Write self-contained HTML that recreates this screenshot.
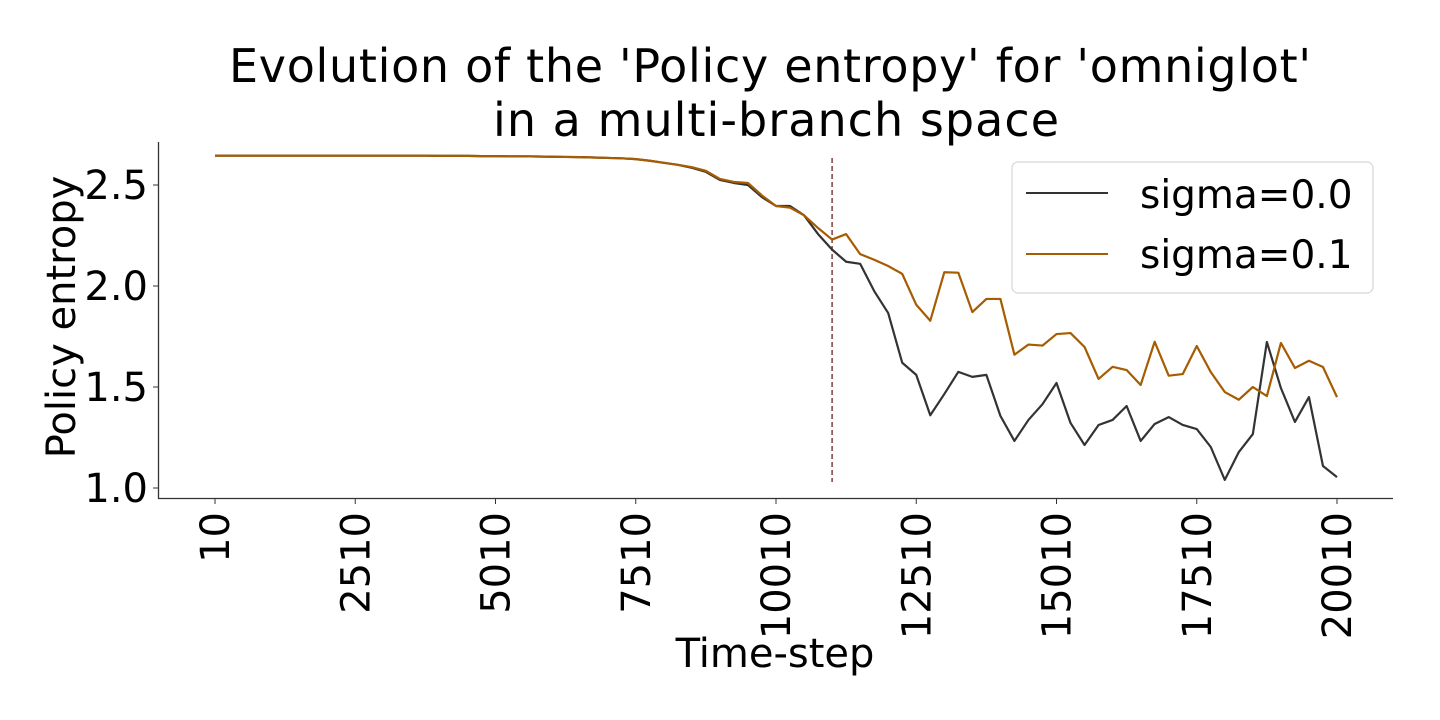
<!DOCTYPE html>
<html><head><meta charset="utf-8"><style>
html,body{margin:0;padding:0;background:#fff;}
svg{display:block;font-family:"DejaVu Sans","Liberation Sans",sans-serif;}
</style></head><body>
<svg id="chart" width="1440" height="720" viewBox="0 0 1440 720">
<text x="770" y="82" font-size="46" text-anchor="middle" textLength="1082">Evolution of the 'Policy entropy' for 'omniglot'</text>
<text x="776" y="136" font-size="46" text-anchor="middle" textLength="566">in a multi-branch space</text>
<g id="axes"></g>
<text x="775" y="667" font-size="40" text-anchor="middle">Time-step</text>
<text transform="translate(75,317) rotate(-90)" font-size="40" text-anchor="middle">Policy entropy</text>
<g>
<rect x="1012" y="162" width="361" height="131" rx="6" fill="#fff" stroke="#d6d6d6" stroke-width="1.2"/>
<line x1="1026" y1="193" x2="1108" y2="193" stroke="#333" stroke-width="2"/>
<text x="1140" y="208" font-size="39">sigma=0.0</text>
<line x1="1026" y1="254" x2="1108" y2="254" stroke="#a65c00" stroke-width="2"/>
<text x="1140" y="268" font-size="39">sigma=0.1</text>
</g>
</svg>
<script>
const steps = Array.from({length:81},(_,i)=>10+250*i);
const xTicks = [10,2510,5010,7510,10010,12510,15010,17510,20010];
const yTicks = [1.0,1.5,2.0,2.5];
const yTickLabels = ["1.0","1.5","2.0","2.5"];
const markerStep = 11010;
const sigma0 = [2.645,2.645,2.645,2.645,2.645,2.645,2.645,2.645,2.645,2.645,
2.645,2.645,2.645,2.645,2.645,2.645,2.644,2.644,2.644,2.643,
2.643,2.642,2.642,2.641,2.640,2.639,2.638,2.636,2.634,2.632,
2.628,2.620,2.610,2.600,2.585,2.565,2.525,2.510,2.500,2.440,
2.396,2.396,2.350,2.257,2.180,2.120,2.110,1.975,1.866,1.620,
1.560,1.360,1.465,1.575,1.550,1.560,1.357,1.233,1.337,1.415,
1.520,1.322,1.213,1.312,1.337,1.406,1.233,1.317,1.351,1.312,
1.292,1.203,1.040,1.178,1.267,1.723,1.495,1.327,1.450,1.109,1.054];
const sigma1 = [2.645,2.645,2.645,2.645,2.645,2.645,2.645,2.645,2.645,2.645,
2.645,2.645,2.645,2.645,2.645,2.645,2.644,2.644,2.644,2.643,
2.643,2.642,2.642,2.641,2.640,2.639,2.638,2.636,2.634,2.632,
2.628,2.620,2.610,2.600,2.588,2.570,2.530,2.515,2.510,2.448,
2.396,2.388,2.350,2.287,2.230,2.257,2.158,2.130,2.099,2.060,
1.907,1.828,2.068,2.066,1.871,1.936,1.936,1.660,1.710,1.705,
1.762,1.767,1.698,1.540,1.600,1.584,1.510,1.724,1.556,1.564,
1.703,1.574,1.475,1.437,1.500,1.455,1.718,1.594,1.630,1.599,1.450];

const NS="http://www.w3.org/2000/svg";
const g=document.getElementById('axes');
const X=v=>215+(v-10)*(1122/20000);
const Y=v=>488-(v-1.0)*202;
function mk(t,a){const e=document.createElementNS(NS,t);for(const k in a)e.setAttribute(k,a[k]);g.appendChild(e);return e;}

let e=mk('line',{x1:158.5,y1:142,x2:158.5,y2:499,stroke:'#333','stroke-width':1.3});


e=mk('line',{x1:158,y1:498.5,x2:1393,y2:498.5,stroke:'#333','stroke-width':1.3});



yTicks.forEach((v,i)=>{
  let t=mk('line',{x1:153,y1:Y(v),x2:158,y2:Y(v),stroke:'#333','stroke-width':1});
  
  
  let l=mk('text',{x:148,y:Y(v)+14,'font-size':40,'text-anchor':'end'});
  l.textContent=yTickLabels[i];
  
  
});
xTicks.forEach(v=>{
  let t=mk('line',{x1:X(v),y1:499,x2:X(v),y2:504,stroke:'#333','stroke-width':1});
  
  
  let l=mk('text',{transform:`translate(${X(v)+14},512) rotate(-90)`,'font-size':40,'text-anchor':'end'});
  l.textContent=String(v);
  
  
});

e=mk('line',{x1:X(markerStep),y1:158,x2:X(markerStep),y2:482,stroke:'#8b4a4a','stroke-width':1.6,'stroke-dasharray':'5,3'});



function series(vals,col,name){
  const p=mk('polyline',{points:vals.map((v,i)=>X(steps[i])+','+Y(v)).join(' '),fill:'none',stroke:col,'stroke-width':2.2,'stroke-linejoin':'round'});
  
  
}
series(sigma0,'#333333','line-sigma-0');
series(sigma1,'#a65c00','line-sigma-1');
</script>
</body></html>
